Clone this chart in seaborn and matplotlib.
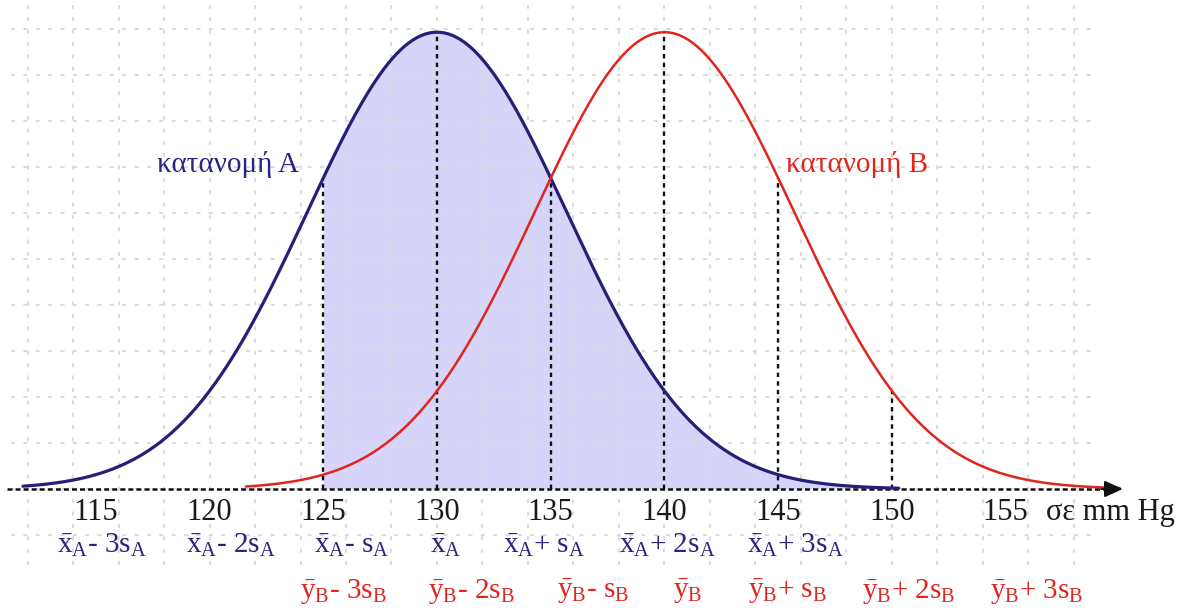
import numpy as np
import pandas as pd
import matplotlib
matplotlib.use("Agg")
import matplotlib.pyplot as plt
import seaborn as sns

# ---- data -------------------------------------------------------------
tick_values = [115, 120, 125, 130, 135, 140, 145, 150, 155]
axis_unit = "σε mm Hg"

dist_names = ["κατανομή A", "κατανομή B"]
means = [130, 140]            # x̄_A, ȳ_B
bell_width = [5.7, 5.7]       # spread of the drawn bell curves
curve_start = [111.8, 121.6]
curve_end = [150.3, 160.0]

shade_from = 125              # shaded area under curve A starts here

labels_A = [r"$\bar{\mathrm{x}}_{\mathrm{A}}$- 3s$_{\mathrm{A}}$",
            r"$\bar{\mathrm{x}}_{\mathrm{A}}$- 2s$_{\mathrm{A}}$",
            r"$\bar{\mathrm{x}}_{\mathrm{A}}$- s$_{\mathrm{A}}$",
            r"$\bar{\mathrm{x}}_{\mathrm{A}}$",
            r"$\bar{\mathrm{x}}_{\mathrm{A}}$+ s$_{\mathrm{A}}$",
            r"$\bar{\mathrm{x}}_{\mathrm{A}}$+ 2s$_{\mathrm{A}}$",
            r"$\bar{\mathrm{x}}_{\mathrm{A}}$+ 3s$_{\mathrm{A}}$"]
label_values_A = [115, 120, 125, 130, 135, 140, 145]

labels_B = [r"$\bar{\mathrm{y}}_{\mathrm{B}}$- 3s$_{\mathrm{B}}$",
            r"$\bar{\mathrm{y}}_{\mathrm{B}}$- 2s$_{\mathrm{B}}$",
            r"$\bar{\mathrm{y}}_{\mathrm{B}}$- s$_{\mathrm{B}}$",
            r"$\bar{\mathrm{y}}_{\mathrm{B}}$",
            r"$\bar{\mathrm{y}}_{\mathrm{B}}$+ s$_{\mathrm{B}}$",
            r"$\bar{\mathrm{y}}_{\mathrm{B}}$+ 2s$_{\mathrm{B}}$",
            r"$\bar{\mathrm{y}}_{\mathrm{B}}$+ 3s$_{\mathrm{B}}$"]
label_values_B = [125, 130, 135, 140, 145, 150, 155]

# ---- layout / style ---------------------------------------------------
NAVY = "#261f78"
NAVY_TXT = "#2a2381"
RED = "#e0251d"
FILL = "#d6d5f9"
GRID = "#dcdcdc"

peak_height = 9.93                      # curve peak in grid units
shift_A = [-1.70, -1.03, -0.41, -0.31, -2.10, -2.00, -1.37]
shift_B = [-1.02, -0.40, 0.27, 0.37, -1.33, -1.32, -0.69]

sns.set_style("white")
plt.rcParams["font.family"] = ["Liberation Serif", "DejaVu Serif"]
plt.rcParams["mathtext.fontset"] = "custom"
plt.rcParams["mathtext.rm"] = "Liberation Serif"
plt.rcParams["mathtext.it"] = "Liberation Serif:italic"
plt.rcParams["mathtext.bf"] = "Liberation Serif:bold"
plt.rcParams["lines.scale_dashes"] = False

fig = plt.figure(figsize=(11.87, 6.12), dpi=100)
ax = fig.add_axes([0, 0, 1, 1])
ax.set_xlim(110.79, 162.97)
ax.set_ylim(-2.674, 10.63)
ax.axis("off")


def bell(x, m, s):
    return peak_height * np.exp(-0.5 * ((np.asarray(x) - m) / s) ** 2)


# ---- curves (seaborn) -------------------------------------------------
frames = []
for name, m, s, a, b in zip(dist_names, means, bell_width, curve_start, curve_end):
    xs = np.linspace(a, b, 600)
    frames.append(pd.DataFrame({"x": xs, "y": bell(xs, m, s), "dist": name}))
curves = pd.concat(frames, ignore_index=True)

# shaded area under curve A
xs_fill = np.linspace(shade_from, curve_end[0], 400)
ax.fill_between(xs_fill, 0, bell(xs_fill, means[0], bell_width[0]),
                color=FILL, lw=0, zorder=1)

# dashed grid
grid_dash = (0, (2.9, 6.0))
ax.vlines(np.arange(112, 159, 2), -1.65, 10.52, colors=GRID, lw=1.5,
          linestyles=[grid_dash], zorder=2)
ax.hlines(np.arange(-1, 11), 111.27, 158.97, colors=GRID, lw=1.5,
          linestyles=[grid_dash], zorder=2)

# reference verticals up to the curves
guide_x = [125, 130, 135, 140, 145, 150]
guide_top = [bell(125, means[0], bell_width[0]),
             bell(130, means[0], bell_width[0]),
             bell(135, means[0], bell_width[0]),
             bell(140, means[1], bell_width[1]),
             bell(145, means[1], bell_width[1]),
             bell(150, means[1], bell_width[1])]
ax.vlines(guide_x, 0, guide_top, colors="#111111", lw=1.7,
          linestyles=[(0, (3.2, 3.0))], zorder=3)

# x axis with arrow
ax.plot([111.1, 159.6], [0, 0], color="#111111", lw=1.8,
        linestyle=(0, (3.6, 2.2)), zorder=3)
ax.annotate("", xy=(160.15, 0), xytext=(159.2, 0),
            arrowprops=dict(arrowstyle="-|>,head_length=0.55,head_width=0.25",
                            color="#111111", lw=1.5, mutation_scale=20,
                            shrinkA=0, shrinkB=0), zorder=5)

sns.lineplot(data=curves, x="x", y="y", hue="dist", estimator=None,
             sort=False, palette=[NAVY, RED], linewidth=2.0,
             legend=False, ax=ax, zorder=4)
for line, lw in zip(ax.get_lines()[-2:], [2.3, 1.8]):
    line.set_linewidth(lw)

ax.set_xlim(110.79, 162.97)
ax.set_ylim(-2.674, 10.63)
ax.axis("off")

# ---- texts ------------------------------------------------------------
FS = 21
ax.text(120.81, 6.89, dist_names[0], color=NAVY_TXT, fontsize=FS,
        ha="center", va="baseline")
ax.text(148.46, 6.89, dist_names[1], color=RED, fontsize=FS,
        ha="center", va="baseline")

for v in tick_values:
    ax.text(v, -0.674, str(v), color="#1a1a1a", fontsize=FS + 1,
            ha="center", va="baseline")
ax.text(156.77, -0.674, axis_unit, color="#1a1a1a", fontsize=FS + 1,
        ha="left", va="baseline")

for v, d, lab in zip(label_values_A, shift_A, labels_A):
    ax.text(v + d, -1.391, lab, color=NAVY_TXT, fontsize=FS,
            ha="left", va="baseline")
for v, d, lab in zip(label_values_B, shift_B, labels_B):
    ax.text(v + d, -2.37, lab, color=RED, fontsize=FS,
            ha="left", va="baseline")

fig.savefig("out.png", dpi=100, facecolor="white")
